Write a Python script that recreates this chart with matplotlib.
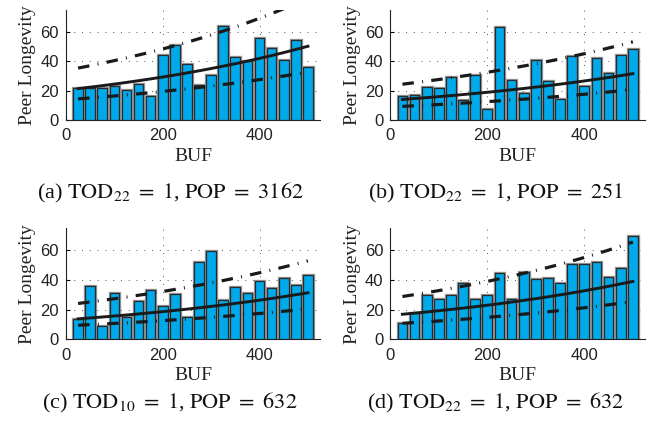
import numpy as np
import matplotlib
matplotlib.use('Agg')
import matplotlib.pyplot as plt

plt.rcParams['mathtext.fontset'] = 'stix'

# posiciones de buffer (centros de las barras)
buf = [25, 50, 75, 100, 125, 150, 175, 200, 225, 250,
       275, 300, 325, 350, 375, 400, 425, 450, 475, 500]

# longevidad media por panel
long_a = [22.1, 21.7, 21.7, 23.0, 20.8, 24.4, 16.3, 44.5, 51.2, 38.4,
          23.7, 30.5, 63.9, 43.3, 40.4, 55.8, 48.8, 40.6, 54.6, 36.3]
long_b = [16.7, 17.2, 22.6, 22.1, 29.3, 13.5, 30.7, 7.2, 63.7, 27.5,
          18.5, 41.1, 26.6, 14.2, 43.6, 23.0, 42.0, 32.3, 44.0, 48.3]
long_c = [14.0, 35.9, 8.8, 31.6, 15.1, 25.7, 33.0, 22.3, 30.7, 15.3,
          52.1, 59.6, 26.4, 35.2, 31.4, 39.3, 34.5, 41.1, 36.6, 43.3]
long_d = [10.8, 18.0, 30.0, 26.9, 30.0, 37.7, 26.9, 29.6, 44.9, 26.9,
          45.8, 40.6, 41.1, 37.7, 51.0, 50.8, 51.9, 41.8, 48.5, 69.8]

# ajuste exponencial: valor en BUF=25 y BUF=500 (ajuste, cota sup., cota inf.)
fit_a = {'fit': (21.4, 50.3), 'up': (35.4, 83.0), 'low': (14.4, 32.7)}
fit_b = {'fit': (14.0, 31.6), 'up': (24.4, 53.3), 'low': (9.3, 20.8)}
fit_c = {'fit': (13.8, 31.4), 'up': (24.2, 53.0), 'low': (9.5, 20.5)}
fit_d = {'fit': (16.9, 39.1), 'up': (28.9, 65.7), 'low': (10.8, 25.5)}

captions = [r'(a) $\mathrm{TOD}_{22}\ =\ 1$, $\mathrm{POP}\ =\ 3162$',
            r'(b) $\mathrm{TOD}_{22}\ =\ 1$, $\mathrm{POP}\ =\ 251$',
            r'(c) $\mathrm{TOD}_{10}\ =\ 1$, $\mathrm{POP}\ =\ 632$',
            r'(d) $\mathrm{TOD}_{22}\ =\ 1$, $\mathrm{POP}\ =\ 632$']

paneles = [(long_a, fit_a), (long_b, fit_b), (long_c, fit_c), (long_d, fit_d)]

# [izq, abajo, ancho, alto] de cada eje
posiciones = [[0.1009, 0.7163, 0.3884, 0.2600],
              [0.5968, 0.7163, 0.3894, 0.2600],
              [0.1009, 0.1979, 0.3884, 0.2624],
              [0.5968, 0.1979, 0.3894, 0.2624]]
pos_caption = [(0.260, 0.543), (0.757, 0.543), (0.260, 0.047), (0.757, 0.047)]

color_barra = '#00AAEA'
serif = 'Liberation Serif'
sans = 'Liberation Sans'
estilo_banda = (0, (3.6, 2.6, 0.3, 2.6))


def curva(x, extremos):
    """Curva exponencial que pasa por los valores en BUF=25 y BUF=500"""
    y0, y1 = extremos
    b = np.log(y1 / y0) / (500 - 25)
    return y0 * np.exp(b * (x - 25))


fig = plt.figure(figsize=(6.54, 4.23), dpi=100)
xs = np.linspace(25, 500, 200)

for i, (valores, ajuste) in enumerate(paneles):
    ax = fig.add_axes(posiciones[i])
    # contorno gris tipo sombra y luego la barra
    ax.bar(buf, valores, 20, color='none', edgecolor='#9a9a9a', linewidth=2.4, zorder=2)
    ax.bar(buf, valores, 20, color=color_barra, edgecolor='#2a2a2a', linewidth=0.9, zorder=3)

    ax.plot(xs, curva(xs, ajuste['fit']), color='#1a1a1a', lw=2.1, zorder=4)
    ax.plot(xs, curva(xs, ajuste['up']), color='#1a1a1a', lw=2.3, ls=estilo_banda, zorder=4)
    ax.plot(xs, curva(xs, ajuste['low']), color='#1a1a1a', lw=2.3, ls=estilo_banda, zorder=4)

    ax.set_xlim(0, 525)
    ax.set_ylim(0, 75)
    ax.set_xticks([0, 200, 400])
    ax.set_yticks([0, 20, 40, 60])
    ax.grid(True, color='#555555', lw=0.7, ls=(0, (1, 7)), zorder=1)
    ax.set_axisbelow(True)
    for lado in ['top', 'right']:
        ax.spines[lado].set_visible(False)
    ax.spines['left'].set_color('#222222')
    ax.spines['bottom'].set_color('#222222')
    ax.tick_params(direction='in', length=3, width=0.8, labelsize=12)
    ax.tick_params(axis='x', pad=6)
    ax.tick_params(axis='y', pad=5)
    for lbl in ax.get_xticklabels() + ax.get_yticklabels():
        lbl.set_family(sans)
        lbl.set_color('#222222')

    ax.set_xlabel('BUF', fontsize=14, family=serif, labelpad=3, color='#222222')
    ax.set_ylabel('Peer Longevity', fontsize=14, family=serif, labelpad=3, color='#222222')

    fig.text(pos_caption[i][0], pos_caption[i][1], captions[i], fontsize=16,
             family=serif, ha='center', va='center', color='#111111')

plt.savefig('out.png', dpi=100)
